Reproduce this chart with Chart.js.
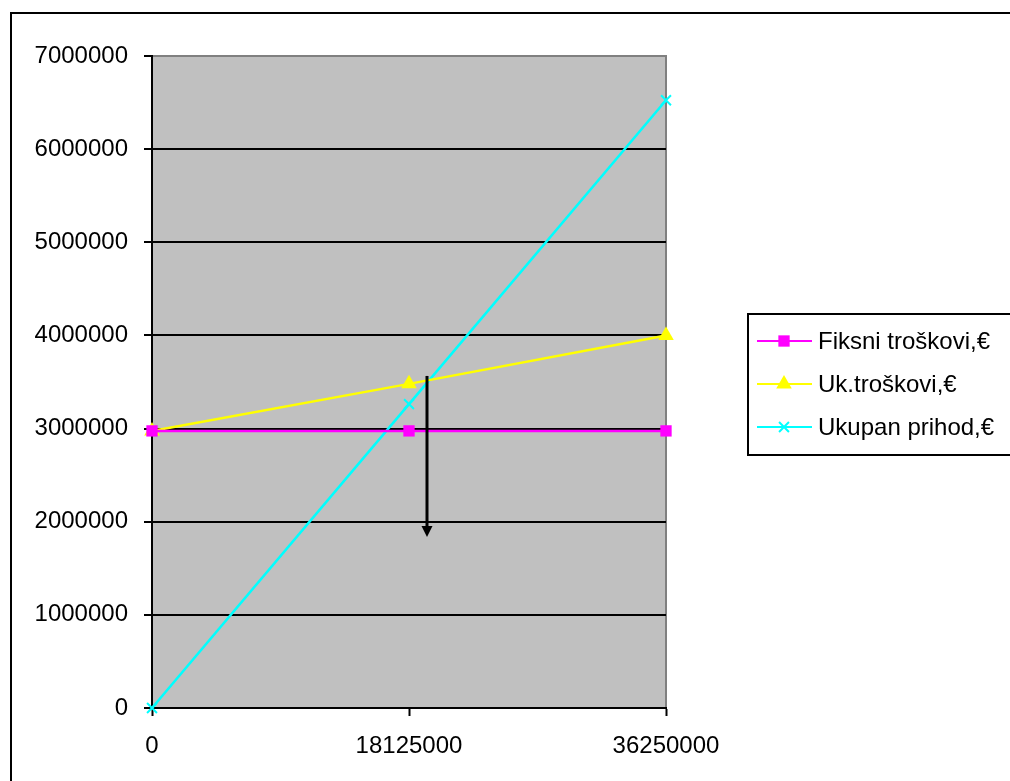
<!DOCTYPE html>
<html>
<head>
<meta charset="utf-8">
<script src="https://cdn.jsdelivr.net/npm/chart.js@4/dist/chart.umd.min.js"></script>
<style>
  html, body { margin: 0; padding: 0; background: #fff; }
  canvas { display: block; }
</style>
</head>
<body>
<canvas id="c" width="1010" height="781"></canvas>
<script>
// Break-even data: quantity on x, euro amounts on y
const quantities = [0, 18125000, 36250000];
const fiksniTroskovi = [2975000, 2975000, 2975000];
const ukTroskovi = [2975000, 3480000, 4000000];
const ukupanPrihod = [0, 3262500, 6525000];
const seriesLabels = ['Fiksni troškovi,€', 'Uk.troškovi,€', 'Ukupan prihod,€'];

// Arrow marking the break-even point (data coordinates)
const arrowX = 19380000;
const arrowFrom = 3565000;
const arrowTo = 1836000;

const FONT = '"Liberation Sans", Arial, sans-serif';

function pts(vals) { return quantities.map((q, i) => ({ x: q, y: vals[i] })); }

const framePlugin = {
  id: 'frame',
  beforeDraw(chart) {
    const ctx = chart.ctx;
    const a = chart.chartArea;
    ctx.save();
    ctx.fillStyle = '#fff';
    ctx.fillRect(0, 0, chart.width, chart.height);
    // outer frame
    ctx.strokeStyle = '#000';
    ctx.lineWidth = 2;
    ctx.strokeRect(11, 13, chart.width + 20, chart.height + 20);
    // plot area
    ctx.fillStyle = '#C0C0C0';
    ctx.fillRect(a.left, a.top, a.right - a.left, a.bottom - a.top);
    ctx.strokeStyle = '#808080';
    ctx.lineWidth = 2;
    ctx.beginPath();
    ctx.moveTo(a.left, a.top);
    ctx.lineTo(a.right, a.top);
    ctx.lineTo(a.right, a.bottom);
    ctx.stroke();
    ctx.restore();
  },
  afterDatasetsDraw(chart) {
    const ctx = chart.ctx;
    const xs = chart.scales.x, ys = chart.scales.y;
    const x = Math.round(xs.getPixelForValue(arrowX));
    const y1 = ys.getPixelForValue(arrowFrom);
    const y2 = ys.getPixelForValue(arrowTo);
    ctx.save();
    ctx.strokeStyle = '#000';
    ctx.fillStyle = '#000';
    ctx.lineWidth = 3;
    ctx.beginPath();
    ctx.moveTo(x, y1);
    ctx.lineTo(x, y2 - 9);
    ctx.stroke();
    ctx.beginPath();
    ctx.moveTo(x - 5.5, y2 - 11);
    ctx.lineTo(x + 5.5, y2 - 11);
    ctx.lineTo(x, y2);
    ctx.closePath();
    ctx.fill();
    ctx.restore();
  },
  afterDraw(chart) {
    // legend with line-and-marker samples inside a framed box
    const ctx = chart.ctx;
    const a = chart.chartArea;
    const bx = a.right + 82, by = 314, bh = 141;
    ctx.save();
    ctx.strokeStyle = '#000';
    ctx.lineWidth = 2;
    ctx.strokeRect(bx, by, chart.width, bh);
    ctx.font = '24px ' + FONT;
    ctx.textBaseline = 'middle';
    ctx.textAlign = 'left';
    chart.data.datasets.forEach((ds, i) => {
      const cy = by + 27 + i * 43;
      ctx.strokeStyle = ds.borderColor;
      ctx.lineWidth = 2;
      ctx.beginPath();
      ctx.moveTo(bx + 9, cy);
      ctx.lineTo(bx + 64, cy);
      ctx.stroke();
      ctx.fillStyle = ds.backgroundColor;
      ctx.strokeStyle = ds.borderColor;
      ctx.lineWidth = ds.pointBorderWidth || 1;
      Chart.helpers.drawPoint(ctx, {
        pointStyle: ds.pointStyle,
        radius: ds.pointRadius,
        borderWidth: ds.pointBorderWidth || 0
      }, bx + 36, cy);
      ctx.fillStyle = '#000';
      ctx.fillText(ds.label, bx + 70, cy + 1);
    });
    ctx.restore();
  }
};

new Chart(document.getElementById('c'), {
  type: 'line',
  data: {
    datasets: [
      {
        label: seriesLabels[0],
        data: pts(fiksniTroskovi),
        borderColor: '#FF00FF',
        backgroundColor: '#FF00FF',
        borderWidth: 2.5,
        pointStyle: 'rect',
        pointRadius: 8,
        pointBorderWidth: 0,
        clip: false
      },
      {
        label: seriesLabels[1],
        data: pts(ukTroskovi),
        borderColor: '#FFFF00',
        backgroundColor: '#FFFF00',
        borderWidth: 2.5,
        pointStyle: 'triangle',
        pointRadius: 9,
        pointBorderWidth: 0,
        clip: false
      },
      {
        label: seriesLabels[2],
        data: pts(ukupanPrihod),
        borderColor: '#00FFFF',
        backgroundColor: '#00FFFF',
        borderWidth: 2.5,
        pointStyle: 'crossRot',
        pointRadius: 7,
        pointBorderWidth: 2,
        clip: false
      }
    ]
  },
  options: {
    responsive: false,
    animation: false,
    events: [],
    layout: { padding: { left: 0, right: 344, top: 56, bottom: 0 } },
    plugins: {
      legend: { display: false },
      title: { display: false },
      tooltip: { enabled: false }
    },
    scales: {
      x: {
        type: 'linear',
        min: 0,
        max: 36250000,
        afterFit(s) { s.height = 73; },
        afterBuildTicks(s) { s.ticks = quantities.map(v => ({ value: v })); },
        ticks: {
          color: '#000',
          font: { family: FONT, size: 24 },
          padding: 16,
          maxRotation: 0,
          callback: v => String(v)
        },
        grid: {
          drawOnChartArea: false,
          drawTicks: true,
          tickLength: 8,
          tickColor: '#000',
          tickWidth: 2
        },
        border: { display: true, color: '#000', width: 2 }
      },
      y: {
        min: 0,
        max: 7000000,
        afterFit(s) { s.width = 152; },
        ticks: {
          stepSize: 1000000,
          color: '#000',
          font: { family: FONT, size: 24 },
          padding: 16,
          callback: v => String(v)
        },
        grid: {
          color: c => (c.tick && c.tick.value === 7000000) ? '#808080' : '#000',
          lineWidth: 2,
          drawTicks: true,
          tickLength: 8,
          tickColor: '#000',
          tickWidth: 2
        },
        border: { display: true, color: '#000', width: 2 }
      }
    }
  },
  plugins: [framePlugin]
});
</script>
</body>
</html>
